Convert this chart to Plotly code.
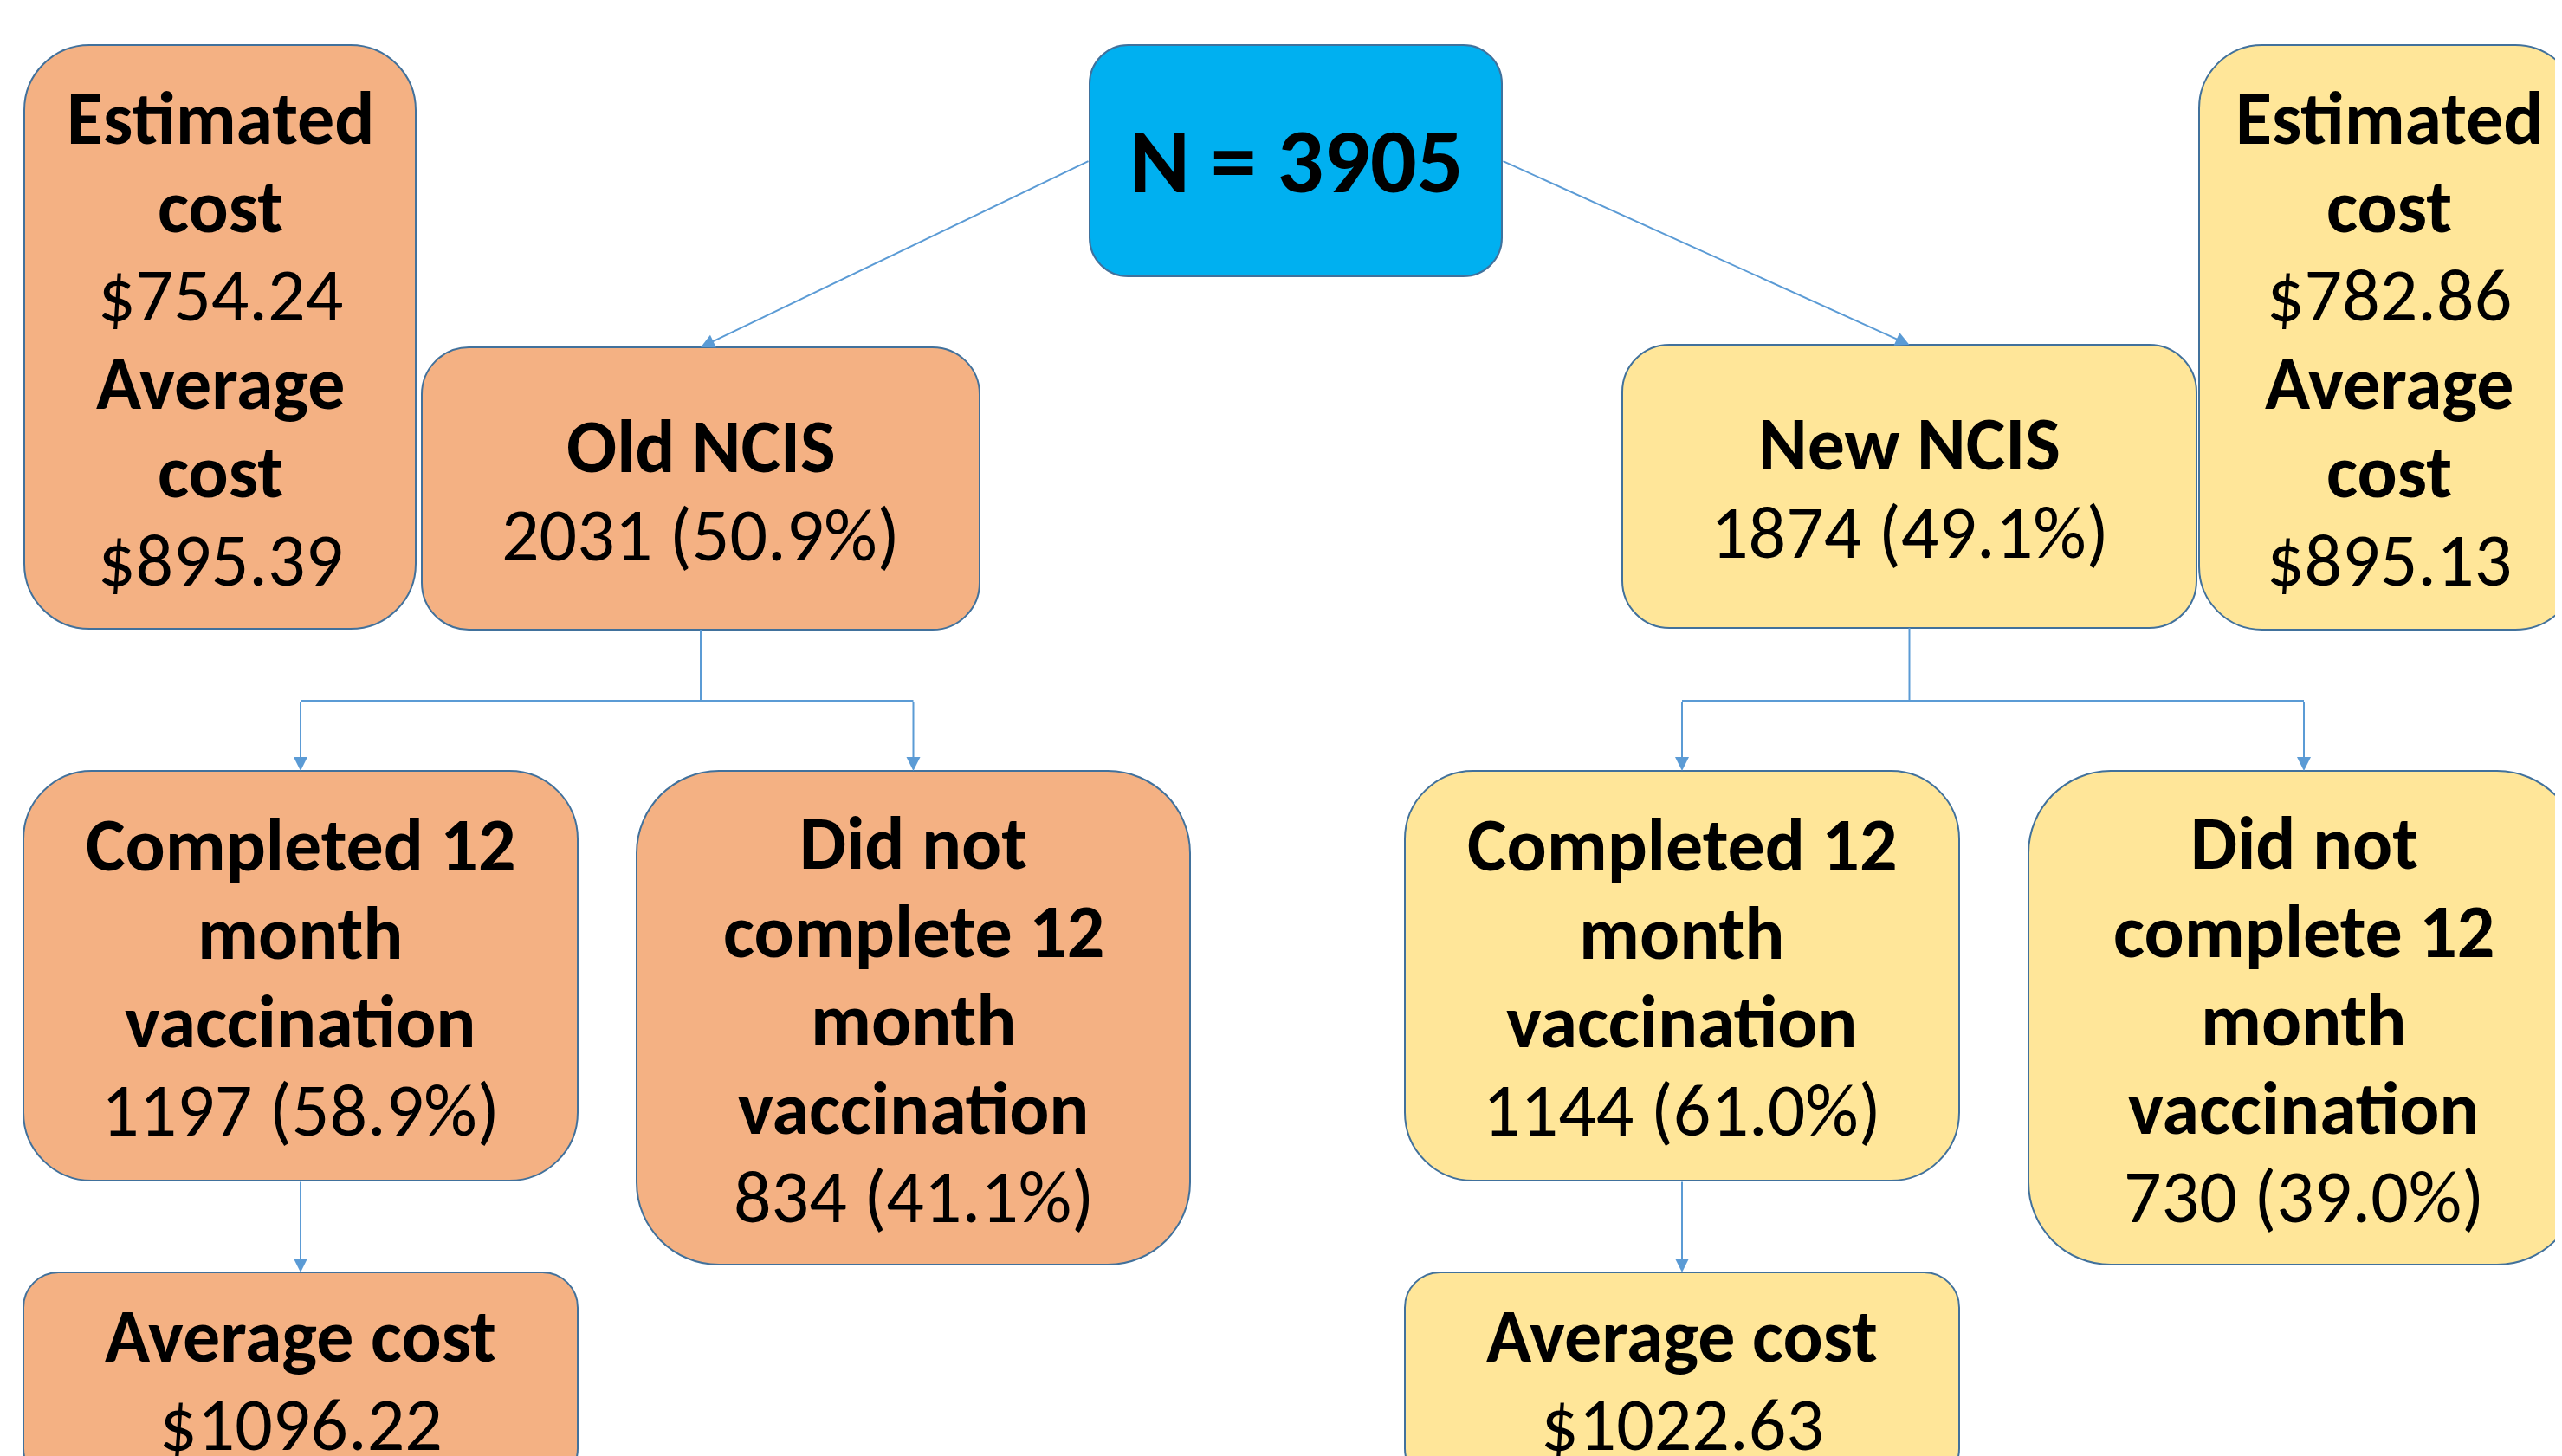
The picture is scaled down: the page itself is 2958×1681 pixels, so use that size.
import plotly.graph_objects as go

# ---------------- data ----------------
total_n = 3905
group_names = ["Old NCIS", "New NCIS"]
group_n = [2031, 1874]
group_pct = [50.9, 49.1]
estimated_cost = [754.24, 782.86]
average_cost_group = [895.39, 895.13]
completed_n = [1197, 1144]
completed_pct = [58.9, 61.0]
not_completed_n = [834, 730]
not_completed_pct = [41.1, 39.0]
average_cost_completed = [1096.22, 1022.63]

# ---------------- layout / style ----------------
W, H = 2958, 1681
PAGE_OFFSET = 8  # default body margin of the html page
FILL = ["#F4B183", "#FFE699"]
ROOT_FILL = "#00B0F0"
BORDER = "#41719C"
ARROW = "#5B9BD5"
FONT = "Carlito, Lato, sans-serif"
FS = 86
LINE_H = 102

# box geometry (x0, x1, y0, y1) per group side
geo = {
    "root": (1258, 1734, 52, 319),
    "est": [(28, 480, 52, 726), (2539, 2977, 52, 727)],
    "grp": [(487, 1131, 401, 727), (1873, 2536, 398, 725)],
    "comp": [(27, 667, 890, 1363), (1622, 2262, 890, 1363)],
    "notc": [(735, 1374, 890, 1460), (2342, 2978, 890, 1460)],
    "avg": [(27, 667, 1469, 1713), (1622, 2262, 1469, 1713)],
}
split_y = 809


def rrect(x0, x1, y0, y1, frac=0.1667):
    r = frac * min(x1 - x0, y1 - y0)
    k = 0.4477 * r
    return (f"M{x0+r},{y0} L{x1-r},{y0} C{x1-k},{y0} {x1},{y0+k} {x1},{y0+r} "
            f"L{x1},{y1-r} C{x1},{y1-k} {x1-k},{y1} {x1-r},{y1} "
            f"L{x0+r},{y1} C{x0+k},{y1} {x0},{y1-k} {x0},{y1-r} "
            f"L{x0},{y0+r} C{x0},{y0+k} {x0+k},{y0} {x0+r},{y0} Z")


fig = go.Figure()
shapes = []
annotations = []


def box(g, fill, lines, size=FS, dy=2):
    x0, x1, y0, y1 = g
    shapes.append(dict(type="path", path=rrect(x0, x1, y0, y1), xref="x", yref="y",
                       fillcolor=fill, line=dict(color=BORDER, width=2), layer="below"))
    cx, cy = (x0 + x1) / 2, (y0 + y1) / 2 + dy
    n = len(lines)
    for j, t in enumerate(lines):
        annotations.append(dict(x=cx, y=cy + (j - (n - 1) / 2) * LINE_H, xref="x", yref="y",
                                text=t, showarrow=False, align="center",
                                xanchor="center", yanchor="middle",
                                font=dict(family=FONT, size=size, color="black")))


def arrow(xt, yt, xh, yh):
    annotations.append(dict(x=xh, y=yh, ax=xt, ay=yt, xref="x", yref="y",
                            axref="x", ayref="y", showarrow=True, arrowhead=2,
                            arrowsize=1.6, arrowwidth=2, arrowcolor=ARROW, text=""))


def line(x0, y0, x1, y1):
    shapes.append(dict(type="line", x0=x0, y0=y0, x1=x1, y1=y1, xref="x", yref="y",
                       line=dict(color=ARROW, width=2)))


# root
box(geo["root"], ROOT_FILL, [f"<b>N = {total_n}</b>"], size=106, dy=0)

rx0, rx1, ry0, ry1 = geo["root"]
rmid = (ry0 + ry1) / 2

for i in range(2):
    f = FILL[i]
    box(geo["est"][i], f,
        ["<b>Estimated</b>", "<b>cost</b>", f"${estimated_cost[i]:.2f}",
         "<b>Average</b>", "<b>cost</b>", f"${average_cost_group[i]:.2f}"])
    box(geo["grp"][i], f, [f"<b>{group_names[i]}</b>", f"{group_n[i]} ({group_pct[i]:.1f}%)"])
    box(geo["comp"][i], f,
        ["<b>Completed 12</b>", "<b>month</b>", "<b>vaccination</b>",
         f"{completed_n[i]} ({completed_pct[i]:.1f}%)"])
    box(geo["notc"][i], f,
        ["<b>Did not</b>", "<b>complete 12</b>", "<b>month</b>", "<b>vaccination</b>",
         f"{not_completed_n[i]} ({not_completed_pct[i]:.1f}%)"])
    box(geo["avg"][i], f, ["<b>Average cost</b>", f"${average_cost_completed[i]:.2f}"])

    # root -> group
    gx0, gx1, gy0, gy1 = geo["grp"][i]
    gcx = (gx0 + gx1) / 2
    tail_x = rx0 if i == 0 else rx1
    arrow(tail_x, rmid, gcx, gy0)

    # group -> children (elbow)
    cx = sum(geo["comp"][i][:2]) / 2
    nx = sum(geo["notc"][i][:2]) / 2
    line(gcx, gy1, gcx, split_y)
    line(cx, split_y, nx, split_y)
    arrow(cx, split_y, cx, geo["comp"][i][2])
    arrow(nx, split_y, nx, geo["notc"][i][2])

    # completed -> average cost
    arrow(cx, geo["comp"][i][3], cx, geo["avg"][i][2])

fig.update_layout(
    width=W, height=H, margin=dict(l=0, r=0, t=0, b=0),
    paper_bgcolor="white", plot_bgcolor="white",
    xaxis=dict(range=[PAGE_OFFSET, W + PAGE_OFFSET], visible=False, fixedrange=True),
    yaxis=dict(range=[H + PAGE_OFFSET, PAGE_OFFSET], visible=False, fixedrange=True),
    shapes=shapes, annotations=annotations, showlegend=False,
)
fig.write_html("out.html")
